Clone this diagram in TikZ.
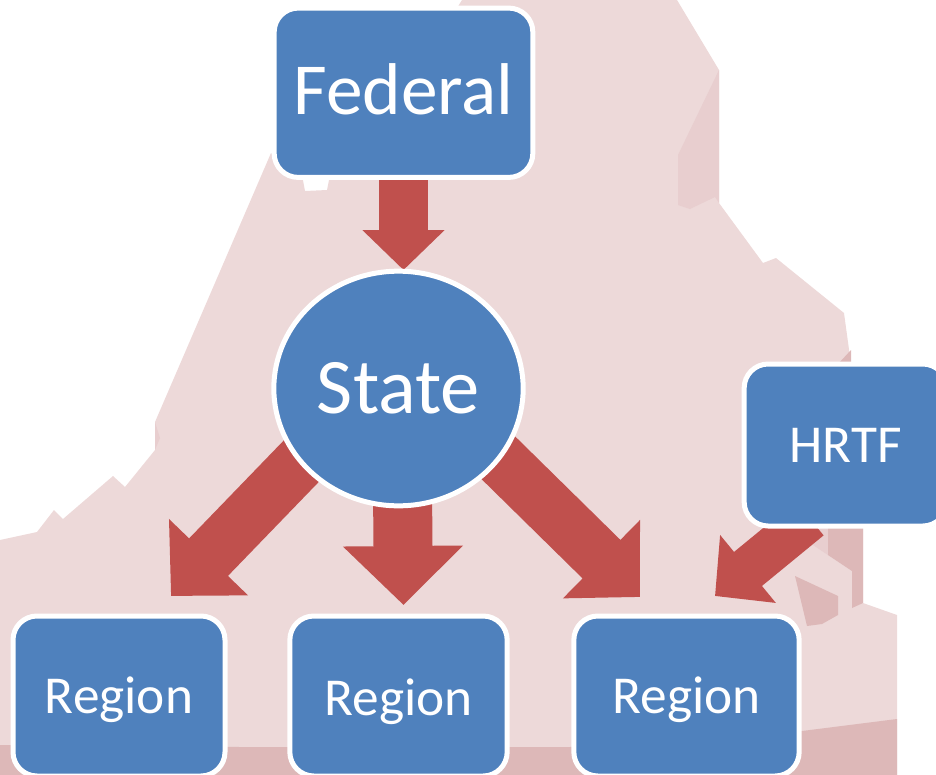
\documentclass[tikz,border=0pt]{standalone}
\usepackage{fontspec}
\setmainfont{Carlito}
\usetikzlibrary{arrows.meta,shapes.geometric,shadows}
\definecolor{mappink}{HTML}{EDD9D9}
\definecolor{mapshade}{HTML}{E8CECF}
\definecolor{mapdark}{HTML}{DDB8B8}
\definecolor{boxblue}{HTML}{4F81BD}
\definecolor{arrowred}{HTML}{C0504D}
\pgfdeclarelayer{map}
\pgfdeclarelayer{links}
\pgfsetlayers{map,links,main}
\tikzset{
  level/.style={draw=white,line width=3.75pt,fill=boxblue,text=white,inner sep=0pt,text depth=0pt},
  levelbox/.style={level,rectangle,rounded corners=18pt},
  lowbox/.style={levelbox,font=\fontsize{40}{40}\selectfont,text height=25.8pt,minimum height=120pt,
    drop shadow={shadow xshift=0.6pt,shadow yshift=-1.4pt,opacity=.3,fill=black}},
  blockarrow/.style n args={3}{draw=arrowred,fill=arrowred,line width=#1,shorten <=-12pt,
    -{Triangle[length=#3,width=#2]}}
}
\begin{document}
\begin{tikzpicture}[x=0.75pt,y=-0.75pt]

                \useasboundingbox (0,0) rectangle (936,775);

                \node[levelbox,font=\fontsize{55}{55}\selectfont,text height=35.4pt,text depth=3pt,minimum width=194pt,minimum height=127pt] (federal) at (403.5,92.75) {Federal};

                \node[level,ellipse,font=\fontsize{59}{59}\selectfont,text height=38pt,minimum width=187pt,minimum height=176pt] (state) at (398.5,388.5) {State};

                \node[lowbox,minimum width=159pt] (region1) at (119,696) {Region};

                \node[lowbox,text height=28.8pt,minimum width=163pt] (region2) at (398.5,696) {Region};

                \node[lowbox,minimum width=169pt] (region3) at (686.5,696) {Region};

                \node[lowbox,minimum width=152pt,minimum height=121.5pt] (hrtf) at (845.5,445) {HRTF};

                \coordinate (statetop) at (403.5,270);
                \coordinate (tipleft) at (171,596);
                \coordinate (tipmid) at (403.5,605);
                \coordinate (tipright) at (640,597);
                \coordinate (tiphrtf) at (715,596);

                \begin{pgfonlayer}{map}
                    \fill[mappink] (462,0) -- (677,0) -- (719,70) -- (719,203) -- (763,263) -- (776,258) -- (844,313) -- (851,364)
                        -- (851,525) -- (863,525) -- (863,603) -- (897,615) -- (897,775) -- (0,775) -- (0,540) -- (37,532)
                        -- (54,510) -- (63,519) -- (113,476) -- (125,487) -- (155,450) -- (155,422) -- (271,153) -- (290,170)
                        -- (302,175) -- (305,191) -- (327,190) -- (330,175) -- (400,100) -- cycle;
                    \fill[mapshade] (719,70) -- (678,155) -- (678,205) -- (690,209) -- (715,197) -- (719,203) -- cycle;
                    \fill[mapshade] (155,422) -- (160,438) -- (155,450) -- cycle;
                    \fill[mapshade] (800,525) -- (828,525) -- (828,555) -- (810,543) -- (790,535) -- cycle;
                    \fill[mapdark] (0,745) -- (240,747) -- (570,747) -- (802,731) -- (897,719) -- (897,775) -- (0,775) -- cycle;
                    \fill[mapdark] (828,525) -- (863,525) -- (863,603) -- (852,608) -- (852,571) -- (828,555) -- cycle;
                    \fill[mapdark] (795,576) -- (838,596) -- (838,615) -- (822,624) -- (807,626) -- cycle;
                    \fill[mapdark] (851,350) -- (851,364) -- (838,364) -- cycle;
                \end{pgfonlayer}

                \begin{pgfonlayer}{links}
                    \foreach \from/\to/\shaft/\headw/\headl in {federal.south/statetop/36.75/60/30, state.217/tipleft/40.5/80/40.5, state.272/tipmid/44.25/87.5/44.25, state.325/tipright/40.5/80/40.5, hrtf.240/tiphrtf/33/64/32}
                        {
                        \draw[blockarrow={\shaft pt}{\headw pt}{\headl pt}] (\from) -- (\to);
                        }
                \end{pgfonlayer}

            \end{tikzpicture}
\end{document}
